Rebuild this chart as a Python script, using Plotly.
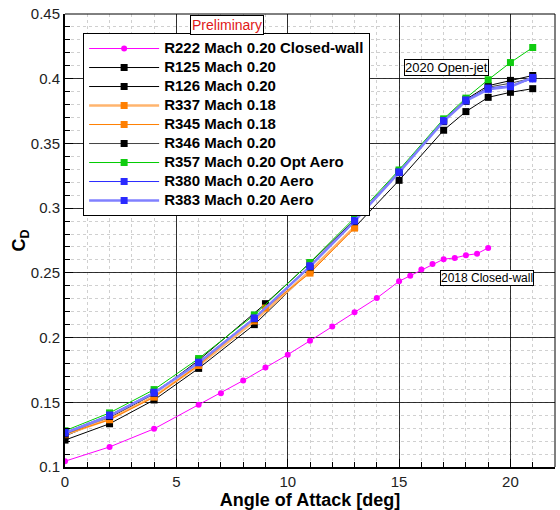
import plotly.graph_objects as go

# Drag coefficient vs. angle of attack
aoa_r222 = [0, 2, 4, 6, 7, 8, 9, 10, 11, 12, 13, 14, 15, 15.5, 16, 16.5, 17, 17.5, 18, 18.5, 19]
cd_r222 = [0.1045, 0.1155, 0.1295, 0.1480, 0.1570, 0.1668, 0.1768, 0.1868, 0.1975, 0.2085, 0.2195,
           0.2305, 0.2435, 0.2478, 0.2525, 0.2568, 0.2606, 0.2615, 0.2636, 0.2648, 0.2693]

aoa_r125 = [0, 2, 4, 6, 9, 11, 13, 15, 17, 18, 19, 20, 21]
cd_r125 = [0.1240, 0.1380, 0.1565, 0.1825, 0.2262, 0.2577, 0.2910, 0.3285, 0.3680, 0.3840, 0.3946, 0.3987, 0.4025]

aoa_r126 = [0, 2, 4, 6, 8.5, 11, 13, 15, 17, 18, 19, 20, 21]
cd_r126 = [0.1208, 0.1334, 0.1518, 0.1762, 0.2100, 0.2520, 0.2850, 0.3215, 0.3602, 0.3746, 0.3856, 0.3895, 0.3923]

aoa_r337 = [0, 2, 4, 6, 8.5, 11, 13]
cd_r337 = [0.1250, 0.1370, 0.1545, 0.1785, 0.2128, 0.2515, 0.2855]

aoa_r345 = [0, 2, 4, 6, 9, 11, 13]
cd_r345 = [0.1254, 0.1365, 0.1540, 0.1787, 0.2228, 0.2498, 0.2846]

aoa_r346 = [0, 2, 4, 6, 8.5, 11, 13, 15, 17, 18, 19, 20, 21]
cd_r346 = [0.1255, 0.1390, 0.1570, 0.1810, 0.2145, 0.2545, 0.2895, 0.3275, 0.3668, 0.3825, 0.3935, 0.3965, 0.4005]

aoa_r357 = [0, 2, 4, 6, 8.5, 11, 13, 15, 17, 18, 19, 20, 21]
cd_r357 = [0.1280, 0.1418, 0.1598, 0.1838, 0.2175, 0.2580, 0.2925, 0.3295, 0.3690, 0.3850, 0.3992, 0.4125, 0.4241]

aoa_r380 = [0, 2, 4, 6, 8.5, 11, 13, 15, 17, 18, 19, 20, 21]
cd_r380 = [0.1267, 0.1402, 0.1578, 0.1810, 0.2152, 0.2555, 0.2905, 0.3280, 0.3677, 0.3836, 0.3928, 0.3946, 0.3998]

aoa_r383 = [0, 2, 4, 6, 8.5, 11, 13, 15, 17, 18, 19, 20, 21]
cd_r383 = [0.1262, 0.1396, 0.1572, 0.1805, 0.2148, 0.2550, 0.2900, 0.3276, 0.3672, 0.3828, 0.3918, 0.3938, 0.4010]

series_names = [
    "R222 Mach 0.20 Closed-wall",
    "R125 Mach 0.20",
    "R126 Mach 0.20",
    "R337 Mach 0.18",
    "R345 Mach 0.18",
    "R346 Mach 0.20",
    "R357 Mach 0.20 Opt Aero",
    "R380 Mach 0.20 Aero",
    "R383 Mach 0.20 Aero",
]

x_ticks = [0, 5, 10, 15, 20]
y_ticks = [0.1, 0.15, 0.2, 0.25, 0.3, 0.35, 0.4, 0.45]
y_tick_text = ["0.1", "0.15", "0.2", "0.25", "0.3", "0.35", "0.4", "0.45"]

FONT = "Liberation Sans, Arial, Helvetica, sans-serif"

# (x, y, line colour, line width, marker colour, marker symbol, marker size)
styles = [
    (aoa_r222, cd_r222, "#ff00ff", 1, "#ff00ff", "circle", 6),
    (aoa_r125, cd_r125, "#000000", 1, "#000000", "square", 7),
    (aoa_r126, cd_r126, "#000000", 1, "#000000", "square", 7),
    (aoa_r337, cd_r337, "#ffb46e", 2.5, "#ff7f00", "square", 7),
    (aoa_r345, cd_r345, "#ff7f00", 1, "#ff7f00", "square", 7),
    (aoa_r346, cd_r346, "#444444", 1, "#000000", "square", 7),
    (aoa_r357, cd_r357, "#00cc00", 1, "#10cc10", "square", 7),
    (aoa_r380, cd_r380, "#2a2aff", 1, "#2a2aff", "square", 7),
    (aoa_r383, cd_r383, "#8080ff", 2.5, "#2a2aff", "square", 7),
]

fig = go.Figure()
for name, (xs, ys, lc, lw, mc, sym, ms) in zip(series_names, styles):
    fig.add_trace(go.Scatter(
        x=xs, y=ys, mode="lines+markers",
        name='<span style="font-size:15px"><b>' + name + "</b></span>",
        line=dict(color=lc, width=lw),
        marker=dict(color=mc, symbol=sym, size=ms, line=dict(width=0)),
    ))

axis_common = dict(
    showline=True, linecolor="black", linewidth=2,
    showgrid=True, gridcolor="rgba(0,0,0,0.8)", gridwidth=1,
    ticks="inside", ticklen=8, tickcolor="black", tickwidth=1,
    tickfont=dict(family=FONT, size=15, color="#222"),
    zeroline=False,
)

fig.update_xaxes(
    range=[0, 22], tickvals=x_ticks,
    minor=dict(dtick=1, ticks="inside", ticklen=5, tickcolor="black",
               showgrid=True, gridcolor="#d0d0d0", griddash="dot", gridwidth=1),
    title=dict(text="<b>Angle of Attack [deg]</b>", font=dict(family=FONT, size=18, color="black"),
               standoff=2),
    **axis_common,
)
fig.update_yaxes(
    range=[0.1, 0.45], tickvals=y_ticks, ticktext=y_tick_text,
    minor=dict(dtick=0.01, tick0=0.1, ticks="inside", ticklen=5, tickcolor="black",
               showgrid=True, gridcolor="#d0d0d0", griddash="dot", gridwidth=1),
    title=dict(text="<b>C<sub>D</sub></b>", font=dict(family=FONT, size=18, color="black"),
               standoff=0),
    **axis_common,
)

# thin frame on the top and right sides
fig.add_shape(type="line", xref="paper", yref="paper", x0=0, x1=1, y0=1, y1=1,
              line=dict(color="black", width=1))
fig.add_shape(type="line", xref="paper", yref="paper", x0=1, x1=1, y0=0, y1=1,
              line=dict(color="black", width=1))

fig.add_annotation(x=7.27, y=0.4415, text="Preliminary", showarrow=False,
                   font=dict(family=FONT, size=14, color="#e01818"),
                   bgcolor="white", bordercolor="black", borderwidth=1, borderpad=1)
fig.add_annotation(x=17.15, y=0.4085, text="2020 Open-jet", showarrow=False,
                   font=dict(family=FONT, size=13, color="black"),
                   bgcolor="white", bordercolor="black", borderwidth=1, borderpad=0)
fig.add_annotation(x=18.95, y=0.2462, text="2018 Closed-wall", showarrow=False,
                   font=dict(family=FONT, size=12, color="black"),
                   bgcolor="white", bordercolor="black", borderwidth=1, borderpad=0)

fig.update_layout(
    width=560, height=510,
    margin=dict(l=65, r=5, t=14, b=41),
    paper_bgcolor="white", plot_bgcolor="white",
    showlegend=True,
    legend=dict(
        x=0.037, y=0.958, xanchor="left", yanchor="top",
        bgcolor="white", bordercolor="black", borderwidth=1,
        font=dict(family=FONT, size=11.6, color="black"),
        itemwidth=70, tracegroupgap=0, traceorder="normal",
    ),
)

fig.write_html("out.html")
